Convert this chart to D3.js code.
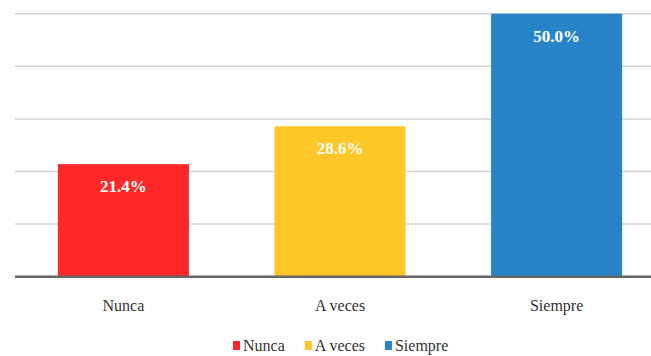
<!DOCTYPE html>
<html><head><meta charset="utf-8">
<script src="https://cdn.jsdelivr.net/npm/d3@7"></script>
<style>body{margin:0;background:#fff}svg{display:block}</style>
</head><body>
<script>
const categories = ["Nunca", "A veces", "Siempre"];
const values = [21.4, 28.6, 50.0];
const colors = ["#FF2828", "#FFC628", "#2884C8"];
const yTicks = [0, 10, 20, 30, 40, 50];

(function () {
const W = 651, H = 356;
const svg = d3.select("body").append("svg").attr("width", W).attr("height", H);
const plotLeft = 15, plotBottom = 276.7, plotTop = 13.7;
const serif = '"Times New Roman", "Liberation Serif", Times, serif';

const x = d3.scaleBand().domain(categories).range([plotLeft, 665]).paddingInner(0.395).paddingOuter(0.198);
const y = d3.scaleLinear().domain([0, 50]).range([plotBottom, plotTop]);

// gridlines
svg.append("g").selectAll("line").data(yTicks.filter(t => t > 0)).join("line")
  .attr("x1", plotLeft).attr("x2", W).attr("y1", d => y(d)).attr("y2", d => y(d))
  .attr("stroke", "#d4d4d4").attr("stroke-width", 1.5);

// bars
svg.append("g").selectAll("rect").data(values).join("rect")
  .attr("x", (d, i) => x(categories[i])).attr("width", x.bandwidth())
  .attr("y", d => y(d)).attr("height", d => y(0) - y(d))
  .attr("fill", (d, i) => colors[i]);

// baseline
svg.append("line").attr("x1", plotLeft).attr("x2", W).attr("y1", y(0)).attr("y2", y(0))
  .attr("stroke", "#666").attr("stroke-width", 2.5);

// value labels
svg.append("g").selectAll("text").data(values).join("text")
  .attr("x", (d, i) => x(categories[i]) + x.bandwidth() / 2)
  .attr("y", d => y(d) + 28)
  .attr("text-anchor", "middle")
  .style("font-family", serif).attr("font-weight", "bold").attr("font-size", 17)
  .attr("fill", "#fff")
  .text(d => d.toFixed(1) + "%");

// x axis labels
const xAxis = d3.axisBottom(x).tickSize(0).tickPadding(0);
const gx = svg.append("g").attr("transform", `translate(0,${plotBottom + 23})`).call(xAxis);
gx.attr("font-family", null);
gx.select(".domain").remove();
gx.selectAll("text").style("font-family", serif).attr("font-size", 16).attr("fill", "#333");

// legend
const lg = svg.append("g");
let lx = 233;
categories.forEach((c, i) => {
  lg.append("rect").attr("x", lx).attr("y", 341).attr("width", 7).attr("height", 9).attr("fill", colors[i]);
  const t = lg.append("text").attr("x", lx + 10).attr("y", 351)
    .style("font-family", serif).attr("font-size", 16).attr("fill", "#333").text(c);
  lx += 10 + t.node().getComputedTextLength() + 20;
});
})();
</script>
</body></html>
